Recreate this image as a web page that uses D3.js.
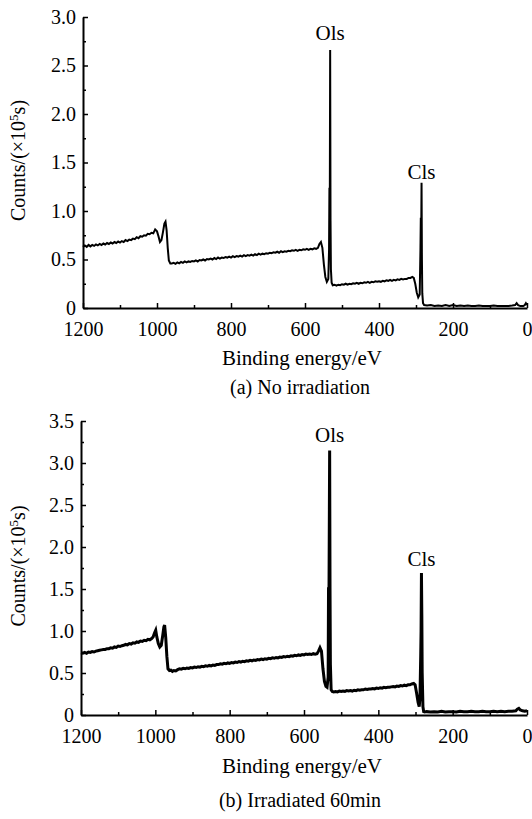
<!DOCTYPE html>
<html>
<head>
<meta charset="utf-8">
<script src="https://cdn.jsdelivr.net/npm/d3@7"></script>
<style>
    body { margin: 0; background: #fff; }
    text { font-family: "Liberation Serif", "Times New Roman", serif; fill: #000; }
</style>
</head>
<body>
<div class="chart-container"></div>
<script>
// Data: [binding energy eV, counts x10^5].
const spectrumA = [
    [1200,0.63],[1195,0.645],[1190,0.63],[1185,0.65],[1180,0.635],[1175,0.65],[1170,0.64],[1165,0.655],
    [1160,0.645],[1155,0.66],[1150,0.65],[1145,0.665],[1140,0.655],[1135,0.67],[1130,0.66],[1125,0.675],
    [1120,0.665],[1115,0.68],[1110,0.67],[1105,0.685],[1100,0.675],[1095,0.69],[1090,0.68],[1085,0.70],
    [1080,0.69],[1075,0.705],[1070,0.70],[1065,0.715],[1060,0.71],[1055,0.73],[1050,0.72],[1045,0.74],
    [1040,0.735],[1035,0.75],[1030,0.745],[1025,0.765],[1020,0.76],[1015,0.775],[1010,0.77],[1005,0.81],
    [1000,0.79],[996,0.74],[992,0.68],[988,0.70],[984,0.78],[980,0.87],[977,0.89],[974,0.80],[971,0.62],
    [968,0.49],[964,0.46],[960,0.46],[955,0.465],[950,0.455],[945,0.47],[940,0.46],[935,0.475],[930,0.465],
    [925,0.48],[920,0.47],[915,0.48],[910,0.475],[905,0.485],[900,0.48],[895,0.49],[890,0.48],[885,0.495],
    [880,0.49],[875,0.50],[870,0.49],[865,0.505],[860,0.50],[855,0.51],[850,0.50],[845,0.515],[840,0.505],
    [835,0.52],[830,0.51],[825,0.52],[820,0.515],[815,0.525],[810,0.52],[805,0.53],[800,0.52],[795,0.535],
    [790,0.525],[785,0.535],[780,0.53],[775,0.54],[770,0.53],[765,0.545],[760,0.535],[755,0.545],[750,0.54],
    [745,0.55],[740,0.54],[735,0.555],[730,0.545],[725,0.56],[720,0.55],[715,0.56],[710,0.555],[705,0.565],
    [700,0.56],[695,0.57],[690,0.565],[685,0.575],[680,0.57],[675,0.58],[670,0.57],[665,0.585],[660,0.575],
    [655,0.585],[650,0.58],[645,0.59],[640,0.585],[635,0.595],[630,0.59],[625,0.60],[620,0.59],[615,0.60],
    [610,0.595],[605,0.605],[600,0.60],[595,0.61],[590,0.60],[585,0.61],[580,0.605],[575,0.615],[570,0.61],
    [565,0.62],[561,0.66],[557,0.68],[553,0.62],[549,0.45],[545,0.32],[541,0.27],[537,0.30],[535,0.60],
    [534,1.24],[533,1.0],[532,2.66],[531,0.9],[530,0.40],[528,0.26],[525,0.235],[520,0.24],[515,0.23],
    [510,0.24],[505,0.235],[500,0.245],[495,0.24],[490,0.25],[485,0.24],[480,0.25],[475,0.245],[470,0.255],
    [465,0.25],[460,0.26],[455,0.25],[450,0.26],[445,0.255],[440,0.265],[435,0.26],[430,0.27],[425,0.26],
    [420,0.27],[415,0.265],[410,0.275],[405,0.27],[400,0.275],[395,0.27],[390,0.28],[385,0.275],[380,0.285],
    [375,0.28],[370,0.29],[365,0.28],[360,0.29],[355,0.285],[350,0.295],[345,0.29],[340,0.30],[335,0.295],
    [330,0.30],[325,0.30],[320,0.31],[315,0.31],[310,0.32],[306,0.31],[302,0.25],[298,0.16],[294,0.11],
    [290,0.14],[288,0.60],[287,0.93],[286,0.70],[285,1.29],[284,0.50],[283,0.15],[281,0.05],[278,0.03],
    [270,0.025],[260,0.03],[250,0.02],[240,0.025],[230,0.02],[220,0.03],[210,0.02],[200,0.03],[190,0.02],
    [180,0.025],[170,0.02],[160,0.025],[150,0.02],[140,0.02],[130,0.025],[120,0.02],[110,0.02],[100,0.02],
    [90,0.025],[80,0.02],[70,0.02],[60,0.02],[50,0.02],[40,0.025],[32,0.03],[28,0.05],[24,0.03],[18,0.02],
    [10,0.02],[6,0.03],[3,0.05],[0,0.03]
];

const spectrumB = [
    [1200,0.74],[1195,0.735],[1190,0.745],[1185,0.735],[1180,0.75],[1175,0.745],[1170,0.755],[1165,0.75],
    [1160,0.76],[1155,0.765],[1150,0.77],[1145,0.775],[1140,0.78],[1135,0.78],[1130,0.79],[1125,0.79],
    [1120,0.80],[1115,0.795],[1110,0.81],[1105,0.805],[1100,0.82],[1095,0.815],[1090,0.825],[1085,0.83],
    [1080,0.84],[1075,0.835],[1070,0.85],[1065,0.845],[1060,0.86],[1055,0.855],[1050,0.87],[1045,0.865],
    [1040,0.88],[1035,0.875],[1030,0.89],[1025,0.885],[1020,0.90],[1015,0.895],[1010,0.91],[1006,0.93],
    [1002,0.98],[999,1.01],[996,0.93],[992,0.85],[988,0.81],[984,0.83],[980,0.95],[977,1.05],[975,1.07],
    [972,0.92],[969,0.70],[966,0.55],[962,0.53],[958,0.535],[954,0.52],[950,0.53],[945,0.525],[940,0.54],
    [935,0.55],[930,0.545],[925,0.555],[920,0.55],[915,0.56],[910,0.555],[905,0.565],[900,0.56],[895,0.57],
    [890,0.565],[885,0.575],[880,0.57],[875,0.58],[870,0.575],[865,0.585],[860,0.58],[855,0.59],[850,0.585],
    [845,0.595],[840,0.59],[835,0.60],[830,0.60],[825,0.61],[820,0.605],[815,0.615],[810,0.61],[805,0.62],
    [800,0.615],[795,0.625],[790,0.62],[785,0.63],[780,0.625],[775,0.635],[770,0.63],[765,0.64],[760,0.635],
    [755,0.645],[750,0.64],[745,0.65],[740,0.645],[735,0.655],[730,0.65],[725,0.66],[720,0.655],[715,0.665],
    [710,0.66],[705,0.67],[700,0.665],[695,0.675],[690,0.67],[685,0.68],[680,0.675],[675,0.685],[670,0.68],
    [665,0.69],[660,0.685],[655,0.695],[650,0.69],[645,0.70],[640,0.695],[635,0.705],[630,0.70],[625,0.71],
    [620,0.705],[615,0.715],[610,0.71],[605,0.72],[600,0.715],[595,0.725],[590,0.72],[585,0.725],[580,0.72],
    [575,0.73],[570,0.725],[565,0.73],[561,0.76],[557,0.80],[553,0.76],[549,0.55],[545,0.40],[541,0.34],
    [538,0.33],[535,0.45],[534,1.52],[533,1.2],[531,3.15],[530,1.5],[529,0.6],[527,0.30],[524,0.28],
    [520,0.275],[515,0.28],[510,0.275],[505,0.285],[500,0.28],[495,0.285],[490,0.28],[485,0.29],[480,0.285],
    [475,0.29],[470,0.285],[465,0.295],[460,0.29],[455,0.30],[450,0.295],[445,0.30],[440,0.30],[435,0.31],
    [430,0.305],[425,0.31],[420,0.31],[415,0.315],[410,0.31],[405,0.32],[400,0.315],[395,0.325],[390,0.32],
    [385,0.33],[380,0.325],[375,0.33],[370,0.33],[365,0.335],[360,0.34],[355,0.335],[350,0.345],[345,0.34],
    [340,0.35],[335,0.345],[330,0.355],[325,0.35],[320,0.36],[315,0.36],[310,0.37],[305,0.375],[301,0.36],
    [297,0.26],[293,0.15],[290,0.10],[288,0.20],[286,0.70],[285,1.0],[284,1.69],[283,1.2],[282,0.50],
    [280,0.10],[278,0.04],[275,0.035],[270,0.04],[260,0.035],[250,0.04],[240,0.035],[230,0.045],[220,0.035],
    [210,0.04],[200,0.04],[190,0.035],[180,0.045],[170,0.04],[160,0.04],[150,0.045],[140,0.04],[130,0.04],
    [120,0.045],[110,0.04],[100,0.04],[90,0.045],[80,0.04],[70,0.045],[60,0.04],[50,0.045],[40,0.045],
    [30,0.05],[26,0.07],[22,0.08],[18,0.06],[12,0.05],[6,0.045],[0,0.05]
];

// Peak labels: [name, energy, counts]
const peaksA = [["Ols", 532, 2.66], ["Cls", 285, 1.29]];
const peaksB = [["Ols", 531, 3.15], ["Cls", 284, 1.69]];

const xTicks = [1200, 1000, 800, 600, 400, 200, 0];
const yTicksA = [0, 0.5, 1.0, 1.5, 2.0, 2.5, 3.0];
const yTicksB = [0, 0.5, 1.0, 1.5, 2.0, 2.5, 3.0, 3.5];

const xTitle = "Binding energy/eV";
const captionA = "(a) No irradiation";
const captionB = "(b) Irradiated 60min";

const svg = d3
    .select('.chart-container')
    .append('svg')
    .attr('width', 532)
    .attr('height', 819);

drawPanel({
    data: spectrumA, peaks: peaksA, yTicks: yTicksA, yMax: 3.0, caption: captionA,
    left: 83, right: 527, top: 17, bottom: 308, lineWidth: 2, peakGap: [10, 4],
    titleGap: 57, captionGap: 86
});
drawPanel({
    data: spectrumB, peaks: peaksB, yTicks: yTicksB, yMax: 3.5, caption: captionB,
    left: 81, right: 527, top: 421, bottom: 715, lineWidth: 3, peakGap: [8, 7],
    titleGap: 58, captionGap: 92
});

function drawPanel(cfg) {
    const xScale = d3.scaleLinear().domain([1200, 0]).range([cfg.left, cfg.right]);
    const yScale = d3.scaleLinear().domain([0, cfg.yMax]).range([cfg.bottom, cfg.top]);

    const g = svg.append('g');

    // minor ticks
    g.append('g')
        .attr('transform', `translate(0, ${cfg.bottom})`)
        .call(d3.axisBottom(xScale).tickValues(d3.range(1100, 0, -200)).tickSize(-3).tickFormat(''))
        .call(s => s.select('.domain').remove());
    g.append('g')
        .attr('transform', `translate(${cfg.left}, 0)`)
        .call(d3.axisLeft(yScale).tickValues(d3.range(0.25, cfg.yMax, 0.5)).tickSize(-3).tickFormat(''))
        .call(s => s.select('.domain').remove());

    // major axes
    const axisX = g.append('g')
        .attr('transform', `translate(0, ${cfg.bottom})`)
        .call(d3.axisBottom(xScale).tickValues(xTicks).tickSize(-5).tickSizeOuter(0)
            .tickPadding(14).tickFormat(d => d));
    const axisY = g.append('g')
        .attr('transform', `translate(${cfg.left}, 0)`)
        .call(d3.axisLeft(yScale).tickValues(cfg.yTicks).tickSize(-5).tickSizeOuter(0)
            .tickPadding(7).tickFormat(d => d === 0 ? '0' : d.toFixed(1)));

    [axisX, axisY].forEach(a => {
        a.select('.domain').attr('stroke-width', 2);
        a.selectAll('text').style('font-size', '20px').style('font-family', '"Liberation Serif", serif');
    });
    g.selectAll('.tick line').attr('stroke-width', 1.5);

    // spectrum line
    const line = d3.line()
        .x(d => xScale(d[0]))
        .y(d => yScale(d[1]));

    g.append('path')
        .datum(cfg.data)
        .attr('d', line)
        .attr('fill', 'none')
        .attr('stroke', '#000')
        .attr('stroke-width', cfg.lineWidth)
        .attr('stroke-linejoin', 'miter');

    // peak labels
    g.selectAll('.peak')
        .data(cfg.peaks)
        .enter()
        .append('text')
        .attr('class', 'peak')
        .attr('x', d => xScale(d[1]))
        .attr('y', (d, i) => yScale(d[2]) - cfg.peakGap[i])
        .attr('text-anchor', 'middle')
        .style('font-size', '21px')
        .text(d => d[0]);

    // y title
    const yMid = (cfg.top + cfg.bottom) / 2 - 2;
    const yTitle = g.append('text')
        .attr('transform', `translate(25, ${yMid}) rotate(-90)`)
        .attr('text-anchor', 'middle')
        .style('font-size', '20px');
    yTitle.append('tspan').text('Counts/(×10');
    yTitle.append('tspan').attr('dy', -7).style('font-size', '13px').text('5');
    yTitle.append('tspan').attr('dy', 7).text('s)');

    // x title and caption
    g.append('text')
        .attr('x', 302)
        .attr('y', cfg.bottom + cfg.titleGap)
        .attr('text-anchor', 'middle')
        .style('font-size', '21px')
        .text(xTitle);

    g.append('text')
        .attr('x', 300)
        .attr('y', cfg.bottom + cfg.captionGap)
        .attr('text-anchor', 'middle')
        .style('font-size', '20px')
        .text(cfg.caption);
}
</script>
</body>
</html>
